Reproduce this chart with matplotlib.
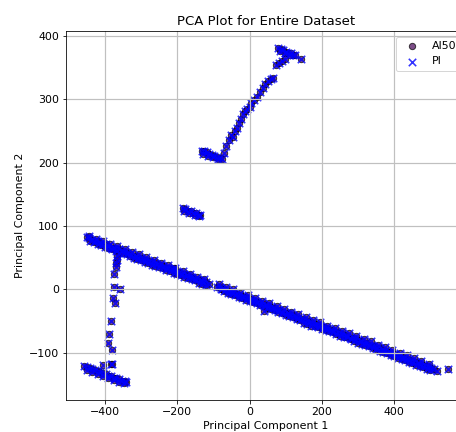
import matplotlib
matplotlib.use("Agg")
import matplotlib.pyplot as plt

# long diagonal band
main_x = [-450, -443, -435, -428, -420, -412, -405, -398, -390, -382, -375, -368,
          -360, -352, -345, -338, -330, -322, -315, -308, -300, -292, -285, -278,
          -270, -262, -255, -248, -240, -232, -225, -218, -210, -202, -195, -188,
          -180, -172, -165, -158, -150, -142, -135, -128, -120, -112,
          -90, -82, -75, -68, -60, -52, -45, -38, -30, -22, -15, -8, 0, 8, 15, 22,
          30, 38, 45, 52, 60, 68, 75, 82, 90, 98, 105, 112, 120, 128, 135, 142,
          150, 158, 165, 172, 180, 188, 195, 202, 210, 218, 225, 232, 240, 248,
          255, 262, 270, 278, 285, 292, 300, 308, 315, 322, 330, 338, 345, 352,
          360, 368, 375, 382, 390, 398, 405, 412, 420, 428, 435, 442, 450, 458,
          465, 472, 480, 488, 495, 502, 510, 517, 548, 40, -208]
main_y = [82, 81, 78, 77, 76, 73, 72, 71, 69, 66, 65, 63,
          63, 60, 59, 58, 56, 53, 53, 50, 49, 47, 46, 44,
          43, 41, 40, 38, 37, 34, 33, 32, 31, 28, 27, 25,
          24, 22, 20, 19, 17, 15, 14, 12, 11, 9,
          4, 3, 1, -1, -2, -4, -6, -7, -9, -10, -12, -14, -15, -17, -19, -20,
          -22, -23, -25, -27, -28, -30, -32, -33, -35, -37, -38, -40, -41, -43, -45, -46,
          -48, -50, -51, -53, -54, -56, -58, -59, -61, -63, -64, -66, -67, -69,
          -71, -72, -74, -76, -77, -79, -80, -82, -84, -85, -87, -89, -90, -92,
          -93, -95, -97, -98, -100, -102, -103, -105, -106, -108, -110, -111, -113, -115,
          -116, -118, -119, -121, -123, -124, -126, -128, -126, -34, 34]
# lower and upper rows that give the band its width
band_x = [-440, -430, -420, -410, -400, -390, -380, -370, -360, -350, -340, -330,
          -320, -310, -300, -290, -280, -270, -260, -250, -240, -230, -220, -210,
          -200, -190, -180, -170, -160, -150, -140, -130, -120, -80, -70, -60, -50,
          -40, -30, -20, -10, 0, 10, 20, 30, 40, 50, 60, 70, 80, 90,
          100, 110, 120, 130, 140, 150, 160, 170, 180, 190, 200, 210, 220, 230,
          240, 250, 260, 270, 280, 290, 300, 310, 320, 330, 340, 350, 360, 370,
          380, 390, 400, 410, 420, 430, 440, 450, 460, 470, 480, 490, 500]
band_y = [76, 74, 72, 70, 67, 65, 63, 61, 58, 57, 55, 52,
          50, 48, 46, 43, 41, 39, 37, 35, 33, 31, 29, 26,
          24, 22, 20, 18, 16, 14, 10, 9, 7, 0, -3, -5, -7,
          -9, -12, -14, -16, -18, -20, -22, -25, -27, -29, -31, -33, -36, -38,
          -40, -42, -44, -47, -49, -53, -55, -57, -57, -60, -62, -64, -66, -68,
          -70, -73, -75, -75, -79, -81, -84, -86, -88, -90, -92, -94, -97, -99,
          -101, -103, -105, -108, -110, -112, -114, -116, -119, -121, -123, -125, -127]
top_x = [-445, -425, -405, -385, -365, -345, -325, -305, -285, -265, -245, -225,
         -205, -185, -165, -145, -125, -85, -65, -45, -25, -5, 15, 35, 55, 75,
         95, 115, 135, 155, 175, 195, 215, 235, 255, 275, 295, 315, 335, 355,
         375, 395, 415, 435, 455, 475, 495]
top_y = [84, 80, 76, 72, 68, 63, 59, 55, 51, 46, 42, 38,
         34, 29, 25, 20, 16, 8, 4, 0, -5, -9, -14, -18, -22, -27,
         -31, -35, -39, -44, -48, -52, -57, -61, -65, -69, -74, -78, -82, -87,
         -91, -95, -100, -104, -108, -113, -117]

# lower left band
low_x = [-457, -450, -442, -435, -428, -420, -412, -405, -398, -390, -382, -375,
         -368, -360, -352, -345, -342, -450, -435, -420, -405, -390, -375, -360, -348,
         -406, -383]
low_y = [-121, -123, -124, -126, -127, -129, -131, -132, -134, -136, -137, -139,
         -140, -142, -144, -145, -146, -127, -130, -133, -137, -140, -143, -146, -148,
         -120, -118]

# vertical column of isolated samples
col_x = [-365, -366, -368, -369, -374, -374, -357, -378, -372, -383, -388, -390, -380, -381]
col_y = [52, 46, 41, 36, 25, 4, 0, -14, -22, -50, -71, -85, -95, -118]

# short segment left of centre
mid_x = [-184, -177, -170, -163, -156, -149, -142, -136, -180, -166, -152, -139]
mid_y = [128, 126, 124, 123, 121, 120, 118, 117, 124, 121, 118, 115]

# upper band and rising arm
up_x = [-132, -125, -118, -111, -104, -97, -90, -83, -76, -128, -114, -100, -86,
        -70, -64, -58, -52, -45, -40, -35, -30, -24, -18, -12, -6, 0, 5, 12, 20,
        28, 36, 42, 50, 58, 64, 74, 82, 90, 98,
        79, 86, 93, 100, 107, 114, 121, 125, 143, 84, 98, 112]
up_y = [219, 218, 216, 214, 212, 211, 209, 207, 205, 214, 211, 208, 205,
        215, 226, 236, 244, 240, 250, 255, 262, 268, 276, 281, 285, 288, 294, 298, 304,
        312, 318, 324, 328, 331, 333, 354, 357, 360, 363,
        381, 379, 377, 375, 373, 372, 370, 369, 364, 376, 373, 370]

xs = main_x + band_x + top_x + low_x + col_x + mid_x + up_x
ys = main_y + band_y + top_y + low_y + col_y + mid_y + up_y

fig = plt.figure(figsize=(456 / 72, 432 / 72), dpi=72)
ax = fig.add_axes([66 / 456, 32 / 432, 400 / 456, 369 / 432])

ax.scatter(xs, ys, s=40, c='#440154', edgecolors='k', alpha=0.7, label='AI50')
ax.scatter(xs, ys, s=55, marker='x', c='blue', linewidths=1.6, alpha=0.8, label='PI')

ax.set_title('PCA Plot for Entire Dataset', fontsize=13.3)
ax.set_xlabel('Principal Component 1', fontsize=11)
ax.set_ylabel('Principal Component 2', fontsize=11)
ax.tick_params(labelsize=11)
ax.grid(True, linewidth=1.2, color='#c0c0c0')
ax.legend(loc='upper right', fontsize=11)

fig.savefig('out.png', dpi=72)
